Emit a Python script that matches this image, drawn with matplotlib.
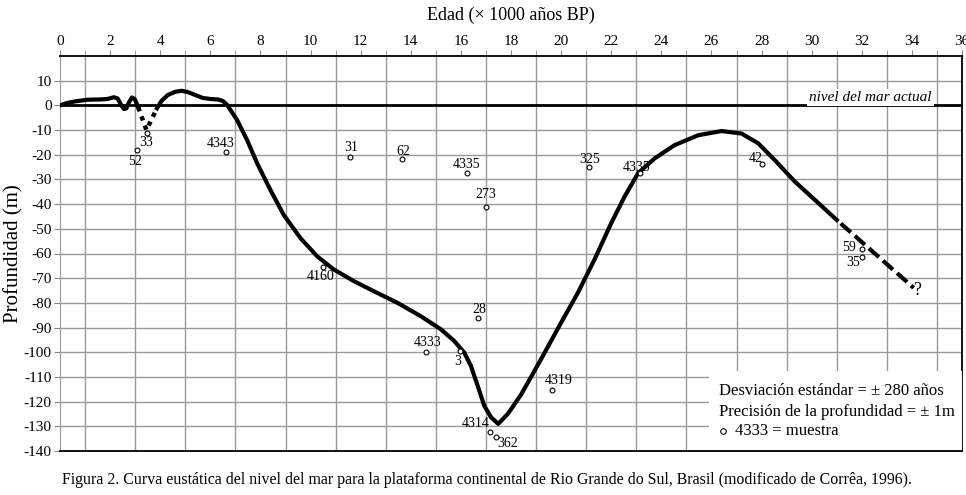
import numpy as np
import matplotlib
matplotlib.use("Agg")
from matplotlib import pyplot as plt
from matplotlib.patches import Rectangle

plt.rcParams['font.family'] = ['Liberation Serif', 'DejaVu Serif']
plt.rcParams['axes.unicode_minus'] = False

# sea level curve (ka BP, m)
curve_a_x = [0.0, 0.3, 0.6, 1.1, 1.6, 1.9, 2.15, 2.3, 2.42, 2.55, 2.65, 2.75, 2.87, 2.98, 3.08, 3.12]
curve_a_y = [0.0, 1.0, 1.6, 2.3, 2.4, 2.6, 3.3, 2.8, 0.5, -1.5, -1.2, 1.2, 3.2, 2.6, 0.3, -0.7]

dotted_x = [3.12, 3.45, 3.87]
dotted_y = [-0.7, -10.0, -1.2]

curve_b_x = [3.87, 4.05, 4.3, 4.6, 4.85, 5.1, 5.4, 5.7, 6.0, 6.3, 6.5, 6.67,
             7.07, 7.47, 7.87, 8.4, 8.93, 9.6, 10.27, 10.93, 11.73, 12.53, 13.47,
             14.4, 15.2, 15.73, 16.13, 16.4, 16.67, 16.93, 17.2, 17.49, 17.87, 18.4,
             19.2, 20.0, 20.67, 21.33, 22.0, 22.53, 23.07, 23.73, 24.53, 25.47, 26.4,
             27.2, 27.87, 28.53, 29.33, 30.27, 31.0]
curve_b_y = [-1.2, 1.8, 4.2, 5.5, 5.9, 5.4, 4.2, 3.0, 2.6, 2.4, 1.8, 0.2,
             -6.0, -14.1, -23.5, -34.3, -44.4, -53.8, -61.2, -66.5, -71.2, -75.3, -80.0,
             -85.4, -90.7, -95.4, -100.1, -105.5, -113.6, -121.6, -126.3, -129.0, -125.0, -117.2,
             -102.8, -88.0, -75.9, -62.5, -47.7, -37.0, -27.5, -21.5, -16.1, -12.1, -10.4,
             -11.4, -15.4, -22.2, -30.9, -39.6, -46.4]

dashed_x = [31.0, 34.07]
dashed_y = [-46.4, -73.9]

# radiocarbon samples
sample_id = ["52", "33", "4343", "31", "62", "4335", "273", "325", "4160", "4335",
             "42", "59", "35", "28", "4333", "3", "4314", "362", "4319"]
sample_x = [3.07, 3.47, 6.63, 11.57, 13.63, 16.23, 17.0, 21.1, 10.5, 23.15,
            28.0, 32.0, 32.0, 16.7, 14.6, 15.97, 17.16, 17.4, 19.64]
sample_y = [-18.1, -11.3, -19.0, -21.0, -21.8, -27.4, -41.1, -25.0, -65.3, -27.2,
            -23.8, -58.0, -61.3, -86.3, -100.0, -99.6, -132.3, -134.3, -115.3]
# label offsets in pixels
label_dx = [-2, -1, -5, 1, 2, 0, 0, 1, -2, -3, -6, -13, -9, 1, 2, -2, -14, 12, 7]
label_dy = [-11, -9, 9, 10, 8, 9, 12, 8, -10, 5, 6, 1, -6, 9, 10, -10, 8, -7, 10]

legend_lines = ["Desviación estándar = ± 280 años",
                "Precisión de la profundidad = ± 1m",
                "4333 = muestra"]

fig = plt.figure(figsize=(9.66, 4.95), dpi=100)
ax = fig.add_axes([60 / 966, 1 - 451 / 495, 902 / 966, 395 / 495])
ax.set_xlim(0, 36)
ax.set_ylim(-140, 20)

ax.set_xticks(np.arange(0, 37, 1), minor=True)
ax.set_xticks(np.arange(0, 37, 2))
ax.set_yticks(np.arange(-140, 11, 10))
ax.xaxis.tick_top()
ax.tick_params(axis='x', which='both', top=True, bottom=False, length=4,
               color='#888888', labelsize=11, pad=2)
ax.tick_params(axis='y', length=4, color='#888888', labelsize=11, pad=2)
ax.grid(True, which='minor', axis='x', color='#999999', lw=1)
ax.grid(True, which='major', axis='y', color='#999999', lw=1)
ax.set_axisbelow(True)
for s in ['top', 'bottom', 'right']:
    ax.spines[s].set_color('black')
    ax.spines[s].set_linewidth(1.3)
ax.spines['left'].set_color('#999999')

ax.axhline(0, color='black', lw=2, zorder=2)
ax.text(34.8, 3.3, "nivel del mar actual", ha='right', va='center', style='italic',
        fontsize=11, bbox=dict(facecolor='white', edgecolor='none', pad=1.5), zorder=3)

ax.plot(curve_a_x, curve_a_y, color='black', lw=3, solid_joinstyle='round', zorder=4)
ax.plot(dotted_x, dotted_y, color='black', lw=3.2, ls=(0, (1, 1.2)), zorder=4)
ax.plot(curve_b_x, curve_b_y, color='black', lw=3, solid_joinstyle='round', zorder=4)
ax.plot(dashed_x, dashed_y, color='black', lw=3, ls=(3.2, (3.2, 1.3)), zorder=4)
ax.text(34.05, -75, "?", fontsize=13, ha='left', va='center')

ax.plot(sample_x, sample_y, 'o', ms=3.5, mfc='white', mec='black', mew=0.8, zorder=5)
for sid, x, y, dx, dy in zip(sample_id, sample_x, sample_y, label_dx, label_dy):
    ax.annotate(sid, (x, y), xytext=(dx, dy), textcoords='offset pixels',
                ha='center', va='center', fontsize=10, zorder=6)

ax.add_patch(Rectangle((25.9, -139.6), 10.1, 32.0, facecolor='white', edgecolor='none', zorder=3))
ax.text(26.3, -115.8, legend_lines[0], fontsize=12, va='center', zorder=6)
ax.text(26.3, -124.3, legend_lines[1], fontsize=12, va='center', zorder=6)
ax.plot([26.45], [-132.0], 'o', ms=4, mfc='white', mec='black', mew=0.8, zorder=6)
ax.text(26.95, -132.0, legend_lines[2], fontsize=12, va='center', zorder=6)

ax.set_ylabel("Profundidad (m)", fontsize=15)
ax.yaxis.set_label_coords(-0.041, 0.5)
fig.text(0.529, 0.968, "Edad (× 1000 años BP)", ha='center', va='center', fontsize=13)
fig.text(62 / 966, 1 - 480 / 495, "Figura 2. Curva eustática del nivel del mar para la plataforma "
         "continental de Rio Grande do Sul, Brasil (modificado de Corrêa, 1996).",
         ha='left', va='center', fontsize=11.4)

fig.savefig("out.png", dpi=100)
